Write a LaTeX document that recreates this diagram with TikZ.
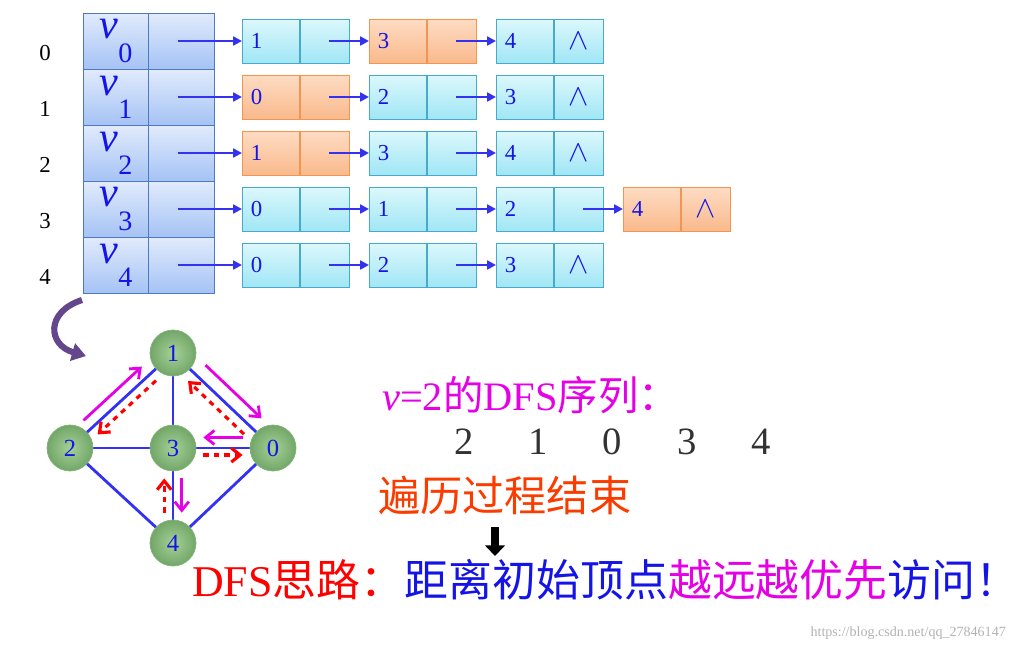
\documentclass[tikz,border=0pt]{standalone}
\usepackage{fontspec}
\setmainfont{Liberation Serif}
\newfontfamily\cjk{Noto Sans CJK SC}
\usetikzlibrary{arrows.meta,calc}
\definecolor{ptrblue}{RGB}{50,50,240}
\definecolor{nodeblue}{RGB}{20,20,230}
\definecolor{mag}{RGB}{230,0,230}
\tikzset{
  cellc/.style={draw={rgb,255:red,70;green,170;blue,200}, top color={rgb,255:red,220;green,248;blue,252},
    bottom color={rgb,255:red,160;green,230;blue,245}},
  cello/.style={draw={rgb,255:red,240;green,150;blue,80}, top color={rgb,255:red,253;green,220;blue,195},
    bottom color={rgb,255:red,250;green,185;blue,140}},
  cell/.style={cell#1, minimum height=44*0.02cm, inner sep=0pt, anchor=west,
    font=\fontsize{13}{13}\selectfont, text=nodeblue},
  head/.style={draw={rgb,255:red,80;green,120;blue,190}, top color={rgb,255:red,225;green,235;blue,252},
    bottom color={rgb,255:red,165;green,195;blue,245}, minimum width=66*0.02cm,
    minimum height=56*0.02cm, inner sep=0pt},
  ptr/.style={ptrblue, line width=1.3pt, -{Triangle[length=5pt,width=5pt]}},
  vert/.style={circle, inner color={rgb,255:red,165;green,210;blue,150},
    outer color={rgb,255:red,115;green,165;blue,105}, draw={rgb,255:red,130;green,180;blue,120},
    minimum size=46*0.02cm, inner sep=0pt, text=nodeblue, font=\fontsize{14}{14}\selectfont},
  edge/.style={ptrblue, line width=1.6pt},
  go/.style={mag, line width=1.6pt, -{Straight Barb[length=5pt,width=8pt]}, shorten <=4pt, shorten >=4pt},
  back/.style={red, dashed, line width=1.8pt, -{Straight Barb[length=5pt,width=8pt]}, shorten <=4pt, shorten >=4pt}
}
\begin{document}
\begin{tikzpicture}[x=0.02cm, y=-0.02cm]
\useasboundingbox (0,0) rectangle (1020,650);
% adjacency list
\foreach \r/\lst in {0/{1/c,3/o,4/c}, 1/{0/o,2/c,3/c}, 2/{1/o,3/c,4/c},
                     3/{0/c,1/c,2/c,4/o}, 4/{0/c,2/c,3/c}} {
  \pgfmathsetmacro{\y}{41+56*\r}
  \node[font=\fontsize{13}{13}\selectfont] (i\r) at (45,\y+12) {\r};
  \node[head] (h\r) at (116,\y) {\color{nodeblue}\fontsize{24}{24}\selectfont\textit{v}\raisebox{-1.2ex}{\fontsize{16}{16}\selectfont\r}};
  \node[head] (p\r) at (181,\y) {};
  \coordinate (s\r) at (178,\y);
  \foreach \v/\c [count=\k] in \lst {
    \pgfmathsetmacro{\x}{242+127*(\k-1)}
    \node[cell=\c, minimum width=57*0.02cm, text width=40*0.02cm, align=left] (a\r\k) at (\x,\y) {\v};
    \node[cell=\c, minimum width=49*0.02cm] (b\r\k) at (a\r\k.east) {};
    \coordinate (t\r\k) at (\x-40,\y);
    \ifnum\k=1 \draw[ptr] (s\r) -- (a\r\k); \else \draw[ptr] (t\r\k) -- (a\r\k); \fi
  }
}
\foreach \n in {03,13,23,34,43}
  \node[text=nodeblue, font=\fontsize{18}{18}\selectfont] at (b\n) {$\wedge$};
% purple curl
\coordinate (cs) at (82,300);
\coordinate (ce) at (86,356);
\draw[draw={rgb,255:red,100;green,70;blue,140}, line width=3.5pt, -{Triangle[length=8pt,width=10pt]}]
  (cs) .. controls (45,312) and (48,345) .. (ce);
% graph
\coordinate (c1) at (173,353);
\coordinate (c2) at (70,448);
\coordinate (c3) at (173,448);
\coordinate (c0) at (273,448);
\coordinate (c4) at (173,543);
\foreach \a/\b in {1/2,1/3,1/0,2/3,3/0,2/4,3/4,0/4}
  \draw[edge] (c\a) -- (c\b);
\foreach \i in {0,...,4}
  \node[vert] (n\i) at (c\i) {\i};
\draw[go, transform canvas={shift={(-5pt,4pt)}}] (n2) -- (n1);
\draw[go, transform canvas={shift={(6pt,5pt)}}] (n1) -- (n0);
\draw[go, transform canvas={shift={(0pt,6pt)}}] (n0) -- (n3);
\draw[go, transform canvas={shift={(5pt,0pt)}}] (n3) -- (n4);
\draw[back, transform canvas={shift={(3pt,-4pt)}}] (n1) -- (n2);
\draw[back, transform canvas={shift={(-4pt,-4pt)}}] (n0) -- (n1);
\draw[back, transform canvas={shift={(0pt,-4pt)}}] (n3) -- (n0);
\draw[back, transform canvas={shift={(-5pt,0pt)}}] (n4) -- (n3);
% texts
\node[anchor=west, text=mag, font=\fontsize{23}{23}\selectfont] (seq) at (376,395)
  {\textit{v}=2\cjk 的\rmfamily DFS\cjk 序列：};
\node[anchor=west, text={rgb,255:red,50;green,50;blue,50}, font=\fontsize{22}{22}\selectfont] (ord) at (448,442)
  {2\hspace{1.1cm}1\hspace{1.1cm}0\hspace{1.1cm}3\hspace{1.1cm}4};
\node[anchor=west, text={rgb,255:red,250;green,60;blue,0}, font=\fontsize{24}{24}\cjk] (end) at (372,495) {遍历过程结束};
\coordinate (da) at (495,527);
\coordinate (db) at (495,556);
\draw[line width=4pt, -{Triangle[length=6pt,width=11pt]}] (da) -- (db);
\node[anchor=west, font=\fontsize{25}{25}\selectfont] (idea) at (186,580)
  {\color{red}DFS\cjk 思路：\color{nodeblue}距离初始顶点\color{mag}越远越优先\color{nodeblue}访问！};
\node[anchor=east, text=gray!60, font=\fontsize{8}{8}\selectfont] (wm) at (1012,633) {https://blog.csdn.net/qq\_27846147};
\end{tikzpicture}
\end{document}
